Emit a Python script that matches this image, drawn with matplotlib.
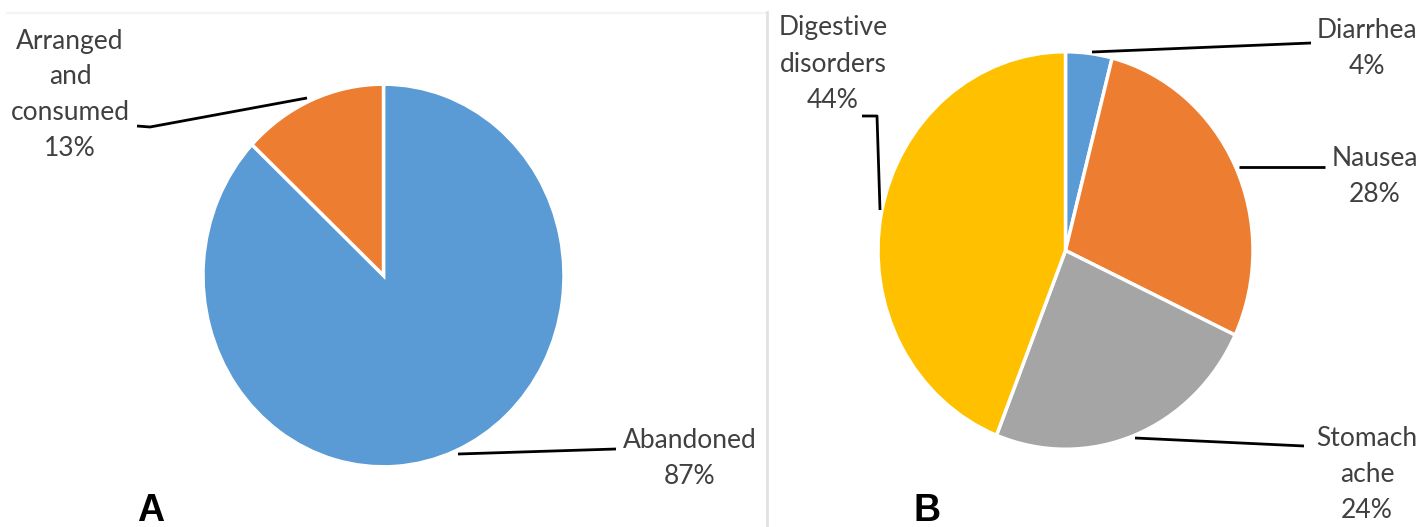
"""
Two pie charts (A: fate of the product, B: reported symptoms).
"""
import matplotlib
matplotlib.use("Agg")
import matplotlib.pyplot as plt

W, H = 1421, 527
SY = 1.06  # the source image is slightly squashed horizontally

# panel A
labels_a = ["Abandoned", "Arranged\nand\nconsumed"]
values_a = [87, 13]
colors_a = ["#5B9BD5", "#ED7D31"]

# panel B
labels_b = ["Diarrhea", "Nausea", "Stomach\nache", "Digestive\ndisorders"]
values_b = [4, 28, 24, 44]
colors_b = ["#5B9BD5", "#ED7D31", "#A5A5A5", "#FFC000"]

TXT = "#404040"
FONT = "Lato"


def py(y):
    # pixel row (from top) -> data y
    return (H - y) / SY


def label(ax, x, y, text):
    ax.text(x, py(y), text, ha="center", va="center", fontsize=19,
            family=FONT, color=TXT, linespacing=1.55)


def leader(ax, xs, ys):
    ax.plot(xs, [py(v) for v in ys], color="black", lw=2, solid_capstyle="butt")


fig = plt.figure(figsize=(W / 100, H / 100), dpi=100)
ax = fig.add_axes([0, 0, 1, 1])

wp = dict(edgecolor="white", linewidth=2.5)
ax.pie(values_a, colors=colors_a, startangle=90, counterclock=False,
       center=(383.5, py(275.5)), radius=180.5, wedgeprops=wp, frame=True)
ax.pie(values_b, colors=colors_b, startangle=90, counterclock=False,
       center=(1065.5, py(250.5)), radius=187.5, wedgeprops=wp, frame=True)

ax.set_aspect("auto")
ax.set_xlim(0, W)
ax.set_ylim(0, H / SY)
ax.axis("off")

# panel frame bits
ax.plot([7, 767], [py(13), py(13)], color="#f4f4f4", lw=1.5)
ax.plot([767, 767], [py(12), py(527)], color="#e2e2e2", lw=2)

# labels A
leader(ax, [458, 616], [454, 449])
label(ax, 690, 459, f"{labels_a[0]}\n{values_a[0]}%")
leader(ax, [307, 150, 137], [98, 127, 126])
label(ax, 70, 95, f"{labels_a[1]}\n{values_a[1]}%")

# labels B
leader(ax, [1092, 1311], [52, 43])
label(ax, 1367, 48, f"{labels_b[0]}\n{values_b[0]}%")
leader(ax, [1239, 1325], [167, 167])
label(ax, 1375, 177, f"{labels_b[1]}\n{values_b[1]}%")
leader(ax, [1135, 1304], [438, 446])
label(ax, 1367, 474, f"{labels_b[2]}\n{values_b[2]}%")
leader(ax, [880, 877, 862], [210, 116, 116])
label(ax, 833, 64, f"{labels_b[3]}\n{values_b[3]}%")

ax.text(151, py(511), "A", ha="center", va="center", fontsize=27,
        fontweight="bold", family="Liberation Sans", color="black")
ax.text(927, py(511), "B", ha="center", va="center", fontsize=27,
        fontweight="bold", family="Liberation Sans", color="black")

fig.savefig("out.png", dpi=100)
